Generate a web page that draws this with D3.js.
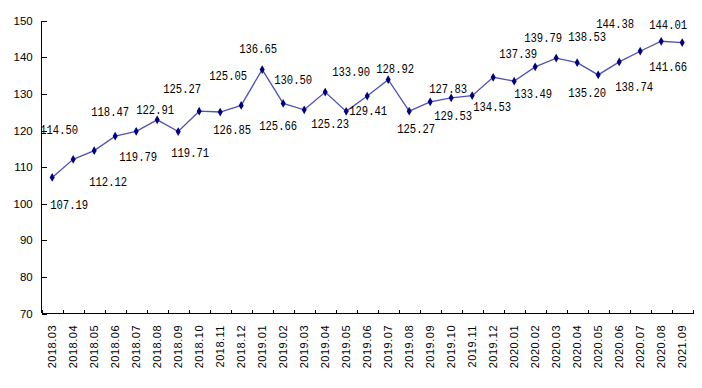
<!DOCTYPE html>
<html>
<head>
<meta charset="utf-8">
<script src="https://cdn.jsdelivr.net/npm/d3@7"></script>
<style>
  body { margin: 0; background: #fff; }
  .axis path, .axis line { stroke: #000; shape-rendering: crispEdges; }
  .axis text { font-family: "Liberation Sans", Arial, sans-serif; fill: #000; }
  .val { font-family: "Liberation Mono", monospace; font-size: 13.5px; fill: #000; }
</style>
</head>
<body>
<div id="chart"></div>
<script>
var svgWidth = 702;
var svgHeight = 388;

var margin = { top: 20.7, right: 9.3, bottom: 74.5, left: 41.7 };

var chartWidth = svgWidth - margin.left - margin.right;
var chartHeight = svgHeight - margin.top - margin.bottom;

// months on the category axis
var months = [
  "2018.03", "2018.04", "2018.05", "2018.06", "2018.07", "2018.08", "2018.09",
  "2018.10", "2018.11", "2018.12", "2019.01", "2019.02", "2019.03", "2019.04",
  "2019.05", "2019.06", "2019.07", "2019.08", "2019.09", "2019.10", "2019.11",
  "2019.12", "2020.01", "2020.02", "2020.03", "2020.04", "2020.05", "2020.06",
  "2020.07", "2020.08", "2021.09"
];

// index values
var values = [
  107.19, 112.12, 114.50, 118.47, 119.79, 122.91, 119.71, 125.27, 125.05, 126.85,
  136.65, 127.40, 125.66, 130.50, 125.23, 129.41, 133.90, 125.27, 127.83, 128.92,
  129.53, 134.53, 133.49, 137.39, 139.79, 138.53, 135.20, 138.74, 141.66, 144.38,
  144.01
];

var yTicks = [70, 80, 90, 100, 110, 120, 130, 140, 150];

// label nudges (px) relative to each point; null = no label shown
var labelDx = [
  17, 35, -35, -5, 2, -2, 12, -17, 8, -9,
  -4, null, -26, -32, -16, 1, -37, 7, 18, -56,
  -19, -1, 19, -17, -13, 10, -11, 15, 28, -46,
  -14
];
var labelDy = [
  27, 22, -21, -25, 25, -11, 21, -23, -37, 24,
  -21, 0, 16, -13, 12, 14, -8, 17, -14, -30,
  20, 29, 12, -14, -21, -26, 17, 24, 15, -18,
  -18
];

var svg = d3.select("#chart")
  .append("svg")
  .attr("width", svgWidth)
  .attr("height", svgHeight);

var chartGroup = svg.append("g")
  .attr("transform", `translate(${margin.left}, ${margin.top})`);

var xBandScale = d3.scaleBand()
  .domain(months)
  .range([0, chartWidth]);

var xEdgeScale = d3.scaleLinear()
  .domain([0, months.length])
  .range([0, chartWidth]);

var yLinearScale = d3.scaleLinear()
  .domain([70, 150])
  .range([chartHeight, 0]);

var xCenter = d => xBandScale(d) + xBandScale.bandwidth() / 2;

// left axis, ticks pointing inwards
chartGroup.append("g")
  .attr("class", "axis")
  .call(d3.axisLeft(yLinearScale).tickValues(yTicks).tickSize(-5).tickPadding(9))
  .call(g => g.select(".domain").attr("d", `M0,${chartHeight}V0`))
  .selectAll("text")
  .style("font-size", "11.5px");

// bottom axis: ticks on category edges
chartGroup.append("g")
  .attr("class", "axis")
  .attr("transform", `translate(0, ${chartHeight})`)
  .call(d3.axisBottom(xEdgeScale).tickValues(d3.range(months.length + 1)).tickSize(-4).tickFormat(""))
  .call(g => g.select(".domain").attr("d", `M0,0H${chartWidth}`));

// bottom labels, rotated
chartGroup.append("g")
  .attr("class", "axis")
  .attr("transform", `translate(0, ${chartHeight})`)
  .call(d3.axisBottom(xBandScale).tickSize(0))
  .call(g => g.select(".domain").remove())
  .selectAll("text")
  .attr("transform", "rotate(-90)")
  .attr("x", -11.5)
  .attr("y", 0)
  .attr("dy", "0.35em")
  .style("text-anchor", "end")
  .style("font-size", "11px")
  .style("letter-spacing", "0.5px");

var points = months.map((m, i) => ({ month: m, value: values[i], dx: labelDx[i], dy: labelDy[i] }));

var line = d3.line()
  .x(d => xCenter(d.month))
  .y(d => yLinearScale(d.value));

chartGroup.append("path")
  .datum(points)
  .attr("fill", "none")
  .attr("stroke", "#5252b4")
  .attr("stroke-width", 1.3)
  .attr("d", line);

chartGroup.selectAll(".marker")
  .data(points)
  .enter()
  .append("path")
  .attr("class", "marker")
  .attr("d", d3.symbol().type(d3.symbolDiamond).size(22))
  .attr("transform", d => `translate(${xCenter(d.month)}, ${yLinearScale(d.value)})`)
  .attr("fill", "#000080");

chartGroup.selectAll(".val")
  .data(points.filter(d => d.dx !== null))
  .enter()
  .append("text")
  .attr("class", "val")
  .attr("x", d => xCenter(d.month) + d.dx)
  .attr("y", d => yLinearScale(d.value) + d.dy)
  .attr("dy", "0.35em")
  .attr("text-anchor", "middle")
  .attr("textLength", 38)
  .attr("lengthAdjust", "spacingAndGlyphs")
  .text(d => d3.format(".2f")(d.value));
</script>
</body>
</html>
